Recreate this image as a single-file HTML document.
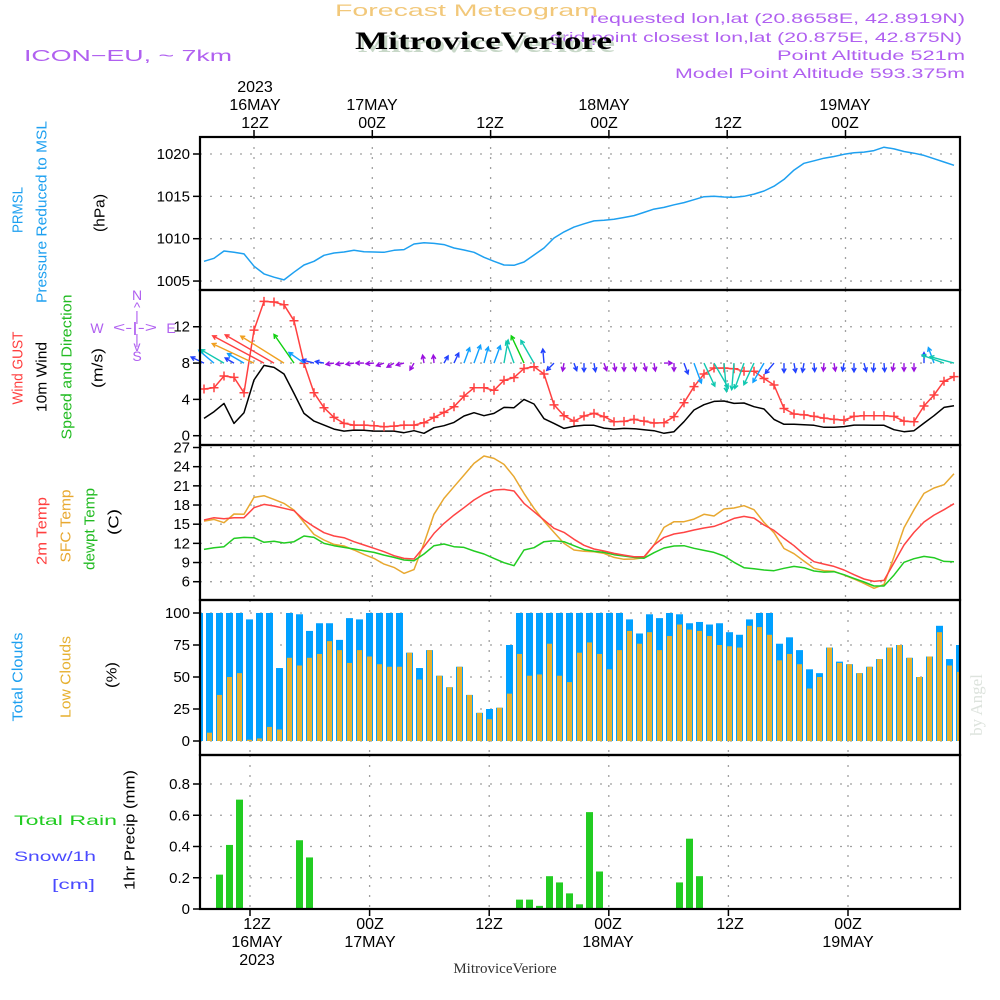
<!DOCTYPE html>
<html><head><meta charset="utf-8"><style>
html,body{margin:0;padding:0;background:#fff;}
svg{display:block;font-family:"Liberation Sans",sans-serif;}
</style></head><body>
<svg id="chart" width="1000" height="1000" viewBox="0 0 1000 1000" xmlns="http://www.w3.org/2000/svg">
<rect width="1000" height="1000" fill="#fff"/>
<g>
<text x="965" y="23" text-anchor="end" font-size="14" fill="#b060f0" textLength="375" lengthAdjust="spacingAndGlyphs">requested lon,lat (20.8658E, 42.8919N)</text>
<text x="962" y="42" text-anchor="end" font-size="14" fill="#b060f0" textLength="412" lengthAdjust="spacingAndGlyphs">grid point closest lon,lat (20.875E, 42.875N)</text>
<text x="965" y="60" text-anchor="end" font-size="14" fill="#b060f0" textLength="188" lengthAdjust="spacingAndGlyphs">Point Altitude 521m</text>
<text x="965" y="78" text-anchor="end" font-size="14" fill="#b060f0" textLength="290" lengthAdjust="spacingAndGlyphs">Model Point Altitude 593.375m</text>
<text x="335" y="16" font-size="17" fill="#f2c87a" textLength="263" lengthAdjust="spacingAndGlyphs">Forecast Meteogram</text>
<text x="358" y="52" font-size="25" font-weight="bold" font-family="Liberation Serif,serif" fill="#c8d8c8" textLength="257" lengthAdjust="spacingAndGlyphs">MitroviceVeriore</text>
<text x="355" y="49" font-size="25" font-weight="bold" font-family="Liberation Serif,serif" fill="#000" textLength="257" lengthAdjust="spacingAndGlyphs">MitroviceVeriore</text>
<text x="24" y="61" font-size="16" fill="#b060f0" textLength="208" lengthAdjust="spacingAndGlyphs">ICON−EU, ~ 7km</text>
</g>
<g id="labels" font-size="15"></g>
<g id="grid"></g>
<g id="marks"></g>
<g id="frames"></g>
<text transform="translate(982,705) rotate(-90)" text-anchor="middle" font-size="17" fill="#dde3dd" font-family="Liberation Serif,serif">by Angel</text>
<text x="505" y="973" text-anchor="middle" font-size="15" font-family="Liberation Serif,serif" fill="#333">MitroviceVeriore</text>
</svg>
<script>
// ---- data (hourly, index 0 = 16MAY 07Z) ----
const pressure = [1007.33,1007.69,1008.55,1008.39,1008.2,1006.75,1005.84,1005.45,1005.14,1006.04,1006.9,1007.33,1008.04,1008.31,1008.43,1008.63,1008.47,1008.43,1008.39,1008.63,1008.71,1009.37,1009.53,1009.45,1009.3,1008.9,1008.67,1008.39,1007.8,1007.33,1006.9,1006.86,1007.25,1008.08,1008.9,1010.08,1010.8,1011.37,1011.76,1012.1,1012.19,1012.3,1012.5,1012.73,1013.1,1013.5,1013.7,1014.0,1014.26,1014.6,1014.96,1015.0,1014.92,1014.88,1015.0,1015.27,1015.63,1016.2,1017.0,1018.1,1018.9,1019.2,1019.5,1019.7,1019.96,1020.15,1020.23,1020.4,1020.8,1020.6,1020.3,1020.1,1019.84,1019.45,1019.06,1018.67];
const gust = [5.14,5.28,6.57,6.42,4.73,11.63,14.79,14.72,14.42,12.66,7.97,4.73,3.08,2.02,1.36,1.17,1.17,1.1,0.99,1.06,1.17,1.17,1.43,2.02,2.57,3.19,4.36,5.28,5.28,5.0,6.1,6.4,7.4,7.6,6.8,3.4,2.2,1.6,2.17,2.46,2.1,1.54,1.58,1.8,1.6,1.4,1.43,2.1,3.63,5.4,6.8,7.45,7.45,7.38,7.1,7.1,6.3,5.58,3.0,2.39,2.3,2.13,1.94,1.8,1.72,2.13,2.2,2.2,2.2,2.13,1.6,1.54,3.27,4.48,6.0,6.5];
const wind = [1.9,2.64,3.56,1.36,2.53,6.13,7.74,7.52,6.79,4.66,2.46,1.61,1.17,0.73,0.51,0.62,0.59,0.51,0.51,0.51,0.33,0.55,0.26,0.88,1.1,1.47,2.17,2.53,2.2,2.46,3.12,3.08,4.0,3.49,1.87,1.36,0.8,1.03,1.14,1.14,0.84,0.73,0.8,0.77,0.66,0.55,0.26,0.44,1.54,2.83,3.41,3.78,3.82,3.56,3.6,3.19,2.94,1.8,1.25,1.25,1.21,1.14,0.92,0.92,1.0,1.17,1.17,1.14,1.14,0.66,0.44,0.55,1.39,2.2,3.12,3.3];
const windDir = [155,140,150,150,150,155,152,150,148,125,145,165,170,190,190,190,180,185,200,210,195,240,100,95,60,65,70,70,75,70,80,110,115,120,95,225,260,290,270,280,290,280,270,280,285,280,0,270,290,290,295,300,275,265,250,245,240,230,270,280,260,275,265,280,260,270,285,265,275,260,270,270,90,110,160,165];
const temp2m = [15.65,16.02,15.86,16.02,16.02,17.58,18.1,17.84,17.48,17.11,15.65,14.61,13.67,13.15,12.89,12.26,11.74,11.22,10.7,10.07,9.65,9.55,11.48,13.56,15.13,16.43,17.58,18.78,19.72,20.35,20.45,20.19,18.26,16.95,15.65,14.35,13.72,12.63,11.7,11.11,10.8,10.43,10.17,9.9,9.9,11.74,12.94,13.46,13.72,14.09,14.4,14.66,15.23,15.9,16.22,15.96,14.87,14.03,12.78,11.63,10.28,9.13,8.76,8.4,7.83,7.1,6.42,6.05,6.2,8.97,11.74,13.72,15.34,16.43,17.27,18.2];
const tempSfc = [15.49,15.75,15.23,16.59,16.54,19.2,19.46,18.88,18.26,17.21,15.28,13.41,12.52,11.84,11.58,10.96,10.28,9.65,8.76,8.24,7.3,7.9,12.0,16.54,19.04,20.87,22.69,24.52,25.67,25.3,24.36,22.43,19.82,17.48,15.49,13.72,12.0,10.96,10.78,10.7,10.43,9.8,9.5,9.55,9.76,11.74,14.5,15.39,15.39,15.8,16.54,16.28,17.37,17.53,17.9,17.27,15.28,13.67,11.2,10.38,9.23,8.09,7.72,7.62,7.04,6.42,5.74,4.96,5.58,9.91,14.45,17.27,19.82,20.66,21.18,22.9];
const dewpt = [11.06,11.32,11.48,12.78,12.94,12.89,12.16,12.32,12.05,12.26,13.15,12.94,12.0,11.63,11.37,11.11,10.85,10.59,10.17,9.8,9.39,9.29,10.33,11.63,11.9,11.48,11.37,10.8,10.33,9.65,8.97,8.5,10.96,11.32,12.26,12.42,12.26,11.63,11.03,10.75,10.59,10.23,10.02,9.8,9.68,10.54,11.27,11.58,11.63,11.22,10.9,10.59,10.02,9.03,8.19,8.03,7.83,7.72,8.09,8.4,8.19,7.67,7.51,7.56,7.1,6.52,5.95,5.32,5.32,7.04,9.03,9.6,9.96,9.76,9.18,9.13];
const cloudTotal = [100,100,100,100,100,95,100,100,57,100,99,86,92,92,79,96,95,100,100,100,100,69,57,71,51,42,58,36,22,25,26,75,100,100,100,100,100,100,100,100,100,100,100,95,84,99,96,100,99,92,93,91,92,85,83,95,100,100,76,81,71,56,53,73,62,60,53,58,64,73,75,65,50,66,90,64,75];
const cloudLow = [0,6.5,36,50,53,1,2,11,9,65,59,65,68,78,71,61,71,66,60,58,58,69,48,71,51,42,58,36,22,17,26,37,68,51,52,76,51,46,69,77,68,56,71,86,76,85,71,82,91,87,86,82,75,74,73,90,89,83,63,68,60,41,50,73,61,60,53,58,64,73,75,65,50,66,85,59,54];
const precip = [0,0.003,0.22,0.41,0.70,0,0,0,0,0,0.44,0.33,0,0,0,0,0,0,0,0,0,0,0,0,0,0,0,0,0,0,0,0,0.06,0.06,0.02,0.21,0.17,0.10,0.03,0.62,0.24,0,0,0,0,0,0,0,0.17,0.45,0.21,0,0,0,0,0,0,0,0,0,0,0,0,0,0,0,0,0,0,0,0,0,0,0,0,0,0];
const pTicks = [1005,1010,1015,1020];
const wTicks = [0,4,8,12];
const tTicks = [6,9,12,15,18,21,24,27];
const cTicks = [0,25,50,75,100];
const rTicks = [0,0.2,0.4,0.6,0.8];
const rLabels = ["0","0.2","0.4","0.6","0.8"];

// ---- scales ----
const X0=200, X1=960;
const lineX = i => 204 + 10*i;
const barX = i => 199.5 + 10*i;
const yP = v => 154 + (1020-v)*8.47;
const yW = v => 435.7 - v*9.08;
const yT = v => 581.7 - (v-6)*6.39;
const yC = v => 741 - v*1.28;
const yR = v => 909 - v*156.25;
const panels = [[137,290],[290,445],[445,600],[600,755],[755,909]];
const vA = k => 254 + 118.3*k;
const vB = k => 250 + 119.6*k;

const NS='http://www.w3.org/2000/svg';
function mk(tag, parent, attrs){const e=document.createElementNS(NS,tag);for(const k in attrs)e.setAttribute(k,attrs[k]);parent.appendChild(e);return e;}
const G=document.getElementById('grid'), M=document.getElementById('marks'), F=document.getElementById('frames'), L=document.getElementById('labels');

function hgrid(ticks, ys, labels, name){
  ticks.forEach((t,j)=>{
    const y=ys(t);
    const g=mk('line',G,{x1:X0,x2:X1,y1:y,y2:y,stroke:'#a0a0a0','stroke-width':1.3,'stroke-dasharray':'2 8'});
    
    
    const tk=mk('line',F,{x1:X0-7,x2:X0,y1:y,y2:y,stroke:'#000','stroke-width':1.5});
    
    
    const tx=mk('text',F,{x:X0-10,y:y+5,'text-anchor':'end','font-size':15,fill:'#000'});
    
    
    tx.textContent = labels ? labels[j] : String(t);
  });
}
hgrid(pTicks,yP,null,'pressure-y');
hgrid(wTicks,yW,null,'wind-y');
hgrid(tTicks,yT,null,'temp-y');
hgrid(cTicks,yC,null,'cloud-y');
hgrid(rTicks,yR,rLabels,'precip-y');
panels.forEach((p,pi)=>{
  for(let k=0;k<6;k++){
    const x = pi<3 ? vA(k) : vB(k);
    const v=mk('line',G,{x1:x,x2:x,y1:p[0],y2:p[1],stroke:'#a0a0a0','stroke-width':1.3,'stroke-dasharray':'2 8'});
    
    
  }
});
for(let k=0;k<6;k++){
  const t=mk('line',F,{x1:vA(k),x2:vA(k),y1:130,y2:137,stroke:'#000','stroke-width':1.5});
  
  
  const b=mk('line',F,{x1:vB(k),x2:vB(k),y1:909,y2:916,stroke:'#000','stroke-width':1.5});
  
  
}

const topLbl = [[255,["2023","16MAY","12Z"]],[372,["17MAY","00Z"]],[490,["12Z"]],[604,["18MAY","00Z"]],[728,["12Z"]],[845,["19MAY","00Z"]]];
topLbl.forEach(([x,arr])=>{arr.forEach((s,j)=>{const y=128-(arr.length-1-j)*18;
  const t=mk('text',F,{x:x,y:y,'text-anchor':'middle','font-size':16,fill:'#000'});
  
  
  t.textContent=s;});});
const botLbl = [[257,["12Z","16MAY","2023"]],[370,["00Z","17MAY"]],[489,["12Z"]],[608,["00Z","18MAY"]],[730,["12Z"]],[848,["00Z","19MAY"]]];
botLbl.forEach(([x,arr])=>{arr.forEach((s,j)=>{
  const t=mk('text',F,{x:x,y:929+j*18,'text-anchor':'middle','font-size':16,fill:'#000'});
  
  
  t.textContent=s;});});

const defs=mk('defs',document.getElementById('chart'),{});
const cp=mk('clipPath',defs,{id:'plotclip'});
mk('rect',cp,{x:X0,y:137,width:X1-X0,height:772});

function poly(vals, xs, ys, color, name, w){
  const pts=vals.map((v,i)=>xs(i).toFixed(1)+','+ys(v).toFixed(1)).join(' ');
  const p=mk('polyline',M,{points:pts,fill:'none',stroke:color,'stroke-width':w||1.5,'stroke-linejoin':'round'});
  
  
  return p;
}
poly(pressure,lineX,yP,'#1ea0f0','pressure-line');
poly(wind,lineX,yW,'#000','mean-wind-line');
poly(gust,lineX,yW,'#ff4040','gust-line');
gust.forEach((v,i)=>{
  const x=lineX(i), y=yW(v);
  const m=mk('path',M,{d:`M${x-4.5},${y}H${x+4.5}M${x},${y-4.5}V${y+4.5}`,stroke:'#ff4040','stroke-width':1.5});
  
  
});
function spdColor(s){
  if(s<1) return '#9a10e0';
  if(s<2) return '#2040ff';
  if(s<3) return '#10a0ff';
  if(s<4) return '#10c8b0';
  if(s<5) return '#10d010';
  if(s<6) return '#e8d830';
  if(s<7) return '#f0a020';
  return '#ff4040';
}
wind.forEach((s,i)=>{
  const x0=lineX(i), y0=yW(8);
  const len=Math.max(8, s*7.5);
  const a=windDir[i]*Math.PI/180;
  const x1=x0+len*Math.cos(a), y1=y0-len*Math.sin(a);
  const h=4.5, ha=0.5;
  const b1x=x1-h*Math.cos(a-ha), b1y=y1+h*Math.sin(a-ha);
  const b2x=x1-h*Math.cos(a+ha), b2y=y1+h*Math.sin(a+ha);
  const c=spdColor(s);
  const ar=mk('path',M,{d:`M${x0.toFixed(1)},${y0.toFixed(1)}L${x1.toFixed(1)},${y1.toFixed(1)}M${b1x.toFixed(1)},${b1y.toFixed(1)}L${x1.toFixed(1)},${y1.toFixed(1)}L${b2x.toFixed(1)},${b2y.toFixed(1)}`,stroke:c,'stroke-width':1.4,fill:'none'});
  
  
});
poly(tempSfc,lineX,yT,'#e8a830','sfc-temp-line');
poly(dewpt,lineX,yT,'#22cc22','dewpoint-line');
poly(temp2m,lineX,yT,'#ff4444','temp-2m-line');
const cg=mk('g',M,{'clip-path':'url(#plotclip)'});


cloudTotal.forEach((v,i)=>{
  const r=mk('rect',cg,{x:barX(i)-3.5,y:yC(v),width:7,height:yC(0)-yC(v),fill:'#00a0ff'});
  
  
});
cloudLow.forEach((v,i)=>{
  const r=mk('rect',cg,{x:barX(i)-2.5,y:yC(v),width:5,height:yC(0)-yC(v),fill:'#e6b030'});
  
  
});
precip.forEach((v,i)=>{
  if(v<=0) return;
  const r=mk('rect',cg,{x:barX(i)-3.5,y:yR(v),width:7,height:yR(0)-yR(v),fill:'#22cc22'});
  
  
});

panels.forEach((p,pi)=>{
  const r=mk('rect',F,{x:X0,y:p[0],width:X1-X0,height:p[1]-p[0],fill:'none',stroke:'#000','stroke-width':2.2});
  
  
});

function rot(x,y,txt,color,name,len,size){
  const t=mk('text',L,{transform:`translate(${x},${y}) rotate(-90)`,'text-anchor':'middle','dominant-baseline':'central','font-size':size||15,fill:color});
  if(len){t.setAttribute('textLength',len);t.setAttribute('lengthAdjust','spacingAndGlyphs');}
  
  
  t.textContent=txt;
}
rot(18,210,'PRMSL','#1ea0f0','prmsl-title',46);
rot(42,212,'Pressure Reduced to MSL','#1ea0f0','pressure-title',182);
rot(100,213,'(hPa)','#000','pressure-unit',38);
rot(18,368,'Wind GUST','#ff4040','gust-title',73);
rot(42,377,'10m Wind','#000','wind-title',70);
rot(67,367,'Speed and Direction','#22bb22','wind-dir-title',145);
rot(98,368,'(m/s)','#000','wind-unit',40);
rot(42,531,'2m Temp','#ff4040','temp2m-title',68);
rot(66,526,'SFC Temp','#e8a830','sfc-temp-title',73);
rot(90,529,'dewpt Temp','#22bb22','dewpt-title',82);
rot(114,522,'(C)','#000','temp-unit',26);
rot(18,677,'Total Clouds','#1ea0f0','total-cloud-title',89);
rot(66,677,'Low Clouds','#e6b030','low-cloud-title',82);
rot(112,675,'(%)','#000','cloud-unit',26);
rot(130,830,'1hr Precip (mm)','#000','precip-title',120);
function htxt(x,y,txt,color,name,len){
  const t=mk('text',L,{x:x,y:y,'font-size':14,fill:color,textLength:len,lengthAdjust:'spacingAndGlyphs'});
  
  
  t.textContent=txt;
}
htxt(14,825,'Total   Rain','#22cc22','rain-legend',103);
htxt(14,861,'Snow/1h','#4a4aff','snow-legend',82);
htxt(52,889,'[cm]','#4a4aff','snow-unit',43);
const comp=[[137,300,'N'],[137,312,'^'],[137,321,'|'],[97,333,'W'],[135,332,'<-|->'],[171,333,'E'],[137,344,'|'],[137,351,'v'],[137,361,'S']];
comp.forEach(([x,y,s])=>{
  const t=mk('text',L,{x:x,y:y,'text-anchor':'middle','font-size':14,fill:'#b060f0'});
  if(s==='<-|->'){t.setAttribute('textLength',44);t.setAttribute('lengthAdjust','spacingAndGlyphs');}
  
  
  t.textContent=s;
});
</script>
</body></html>
